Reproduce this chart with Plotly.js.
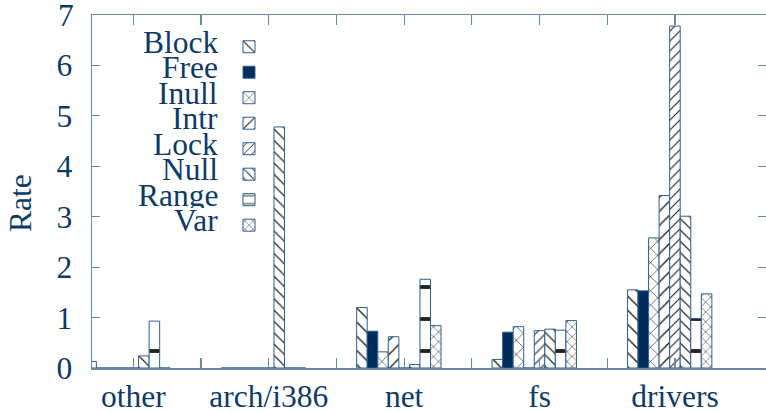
<!DOCTYPE html>
<html>
<head>
<meta charset="utf-8">
<script src="https://cdn.plot.ly/plotly-3.0.1.min.js"></script>
<style>html,body{margin:0;padding:0;background:#fff;}#chart{width:766px;height:412px;}</style>
</head>
<body>
<div id="chart"></div>
<script>
// ---- data ----
const categories = ['other', 'arch/i386', 'net', 'fs', 'drivers'];
const seriesNames = ['Block', 'Free', 'Inull', 'Intr', 'Lock', 'Null', 'Range', 'Var'];
const Block = [0.13, 0, 1.20, 0.17, 1.55];
const Free  = [0, 0, 0.73, 0.71, 1.53];
const Inull = [0, 0, 0.32, 0.82, 2.58];
const Intr  = [0, 0, 0.62, 0, 3.42];
const Lock  = [0, 0, 0, 0.74, 6.78];
const Null  = [0.24, 4.78, 0.07, 0.77, 3.01];
const Range = [0.93, 0, 1.76, 0.75, 0.98];
const Var   = [0, 0, 0.84, 0.94, 1.47];
const seriesValues = [Block, Free, Inull, Intr, Lock, Null, Range, Var];
const yTicks = [0, 1, 2, 3, 4, 5, 6, 7];

// ---- styles ----
const TEXT = '#0e3a68';
const AXIS = '#6a88a8';
const OUTLINE = '#2f5f90';
const FONT = 'Liberation Serif';
const FS = 31.5;
const patterns = [
  {shape: '\\', size: 10, solidity: 0.14},
  null,
  {shape: 'x', size: 10, solidity: 0.12},
  {shape: '/', size: 10, solidity: 0.14},
  {shape: '/', size: 7, solidity: 0.16},
  {shape: '\\', size: 8, solidity: 0.15},
  {shape: '-', size: 32, solidity: 0.12},
  {shape: 'x', size: 7, solidity: 0.14}
];

const catPos = categories.map((c, i) => i * 2);
const w = 0.1558;

const traces = seriesNames.map((name, j) => {
  const p = patterns[j];
  const marker = p ? {
    color: '#ffffff',
    line: {color: OUTLINE, width: 1},
    pattern: {shape: p.shape, size: p.size, solidity: p.solidity, fillmode: 'overlay', fgcolor: '#222222', bgcolor: '#ffffff', fgopacity: 1}
  } : {color: '#002d5c', line: {color: OUTLINE, width: 1}};
  return {
    type: 'bar', name: name, x: catPos, y: seriesValues[j],
    width: w, offset: (j - 4.5) * w, marker: marker,
    hovertemplate: name + ': %{y}<extra></extra>'
  };
});

// plot area geometry in px
const L = 92, R = 766, T = 15, B = 368;
const px2x = px => (px - L) / (R - L);
const px2y = py => (B - py) / (B - T);

const annotations = seriesNames.map((name, j) => ({
  text: name, xref: 'paper', yref: 'paper',
  x: px2x(220), y: px2y(42 + j * 25.5), xanchor: 'right', yanchor: 'middle',
  height: 25, showarrow: false, font: {family: FONT, size: FS, color: TEXT}
}));
annotations.push({
  text: 'Rate', xref: 'paper', yref: 'paper', x: px2x(20), y: px2y(203),
  xanchor: 'center', yanchor: 'middle', textangle: -90, showarrow: false,
  font: {family: FONT, size: FS, color: TEXT}
});
// top y tick label (Plotly drops it at the very top edge)
const topTick = yTicks[yTicks.length - 1];
annotations.push({
  text: String(topTick), xref: 'paper', yref: 'y', x: px2x(76), y: topTick,
  xanchor: 'right', yanchor: 'middle', height: 26, showarrow: false,
  font: {family: FONT, size: FS, color: TEXT}
});

const tickvals = [], ticktext = [];
for (let k = 0; k <= 8; k++) {
  tickvals.push(k);
  ticktext.push(k % 2 === 0 ? categories[k / 2] : '');
}

const layout = {
  width: 766, height: 412,
  margin: {l: L, r: 766 - R, t: T, b: 412 - B, pad: 0},
  paper_bgcolor: '#ffffff', plot_bgcolor: '#ffffff',
  font: {family: FONT, size: FS, color: TEXT},
  barmode: 'overlay', bargap: 0,
  showlegend: true,
  legend: {
    x: px2x(229), y: px2y(29), xanchor: 'left', yanchor: 'top',
    bgcolor: 'rgba(0,0,0,0)', borderwidth: 0,
    font: {family: FONT, size: 17.3, color: 'rgba(0,0,0,0)'},
    tracegroupgap: 0
  },
  xaxis: {
    range: [-0.61, 9.345], tickmode: 'array', tickvals: tickvals, ticktext: ticktext,
    ticks: 'inside', ticklen: 10, tickwidth: 1.2, tickcolor: AXIS,
    showline: true, linecolor: AXIS, linewidth: 1.5, mirror: 'ticks',
    showgrid: false, zeroline: false, tickangle: 0,
    tickfont: {family: FONT, size: FS, color: TEXT}, ticklabelstandoff: 0
  },
  yaxis: {
    range: [0, 7], tickmode: 'array', tickvals: yTicks,
    ticktext: yTicks.map(v => (v === topTick ? '' : String(v))),
    ticks: 'inside', ticklen: 8, tickwidth: 1.2, tickcolor: AXIS,
    showline: true, linecolor: AXIS, linewidth: 1.5, mirror: 'ticks',
    showgrid: false, zeroline: false,
    tickfont: {family: FONT, size: FS, color: TEXT}, ticklabelstandoff: 12
  },
  annotations: annotations
};

Plotly.newPlot('chart', traces, layout, {displayModeBar: false, staticPlot: true});
</script>
</body>
</html>
